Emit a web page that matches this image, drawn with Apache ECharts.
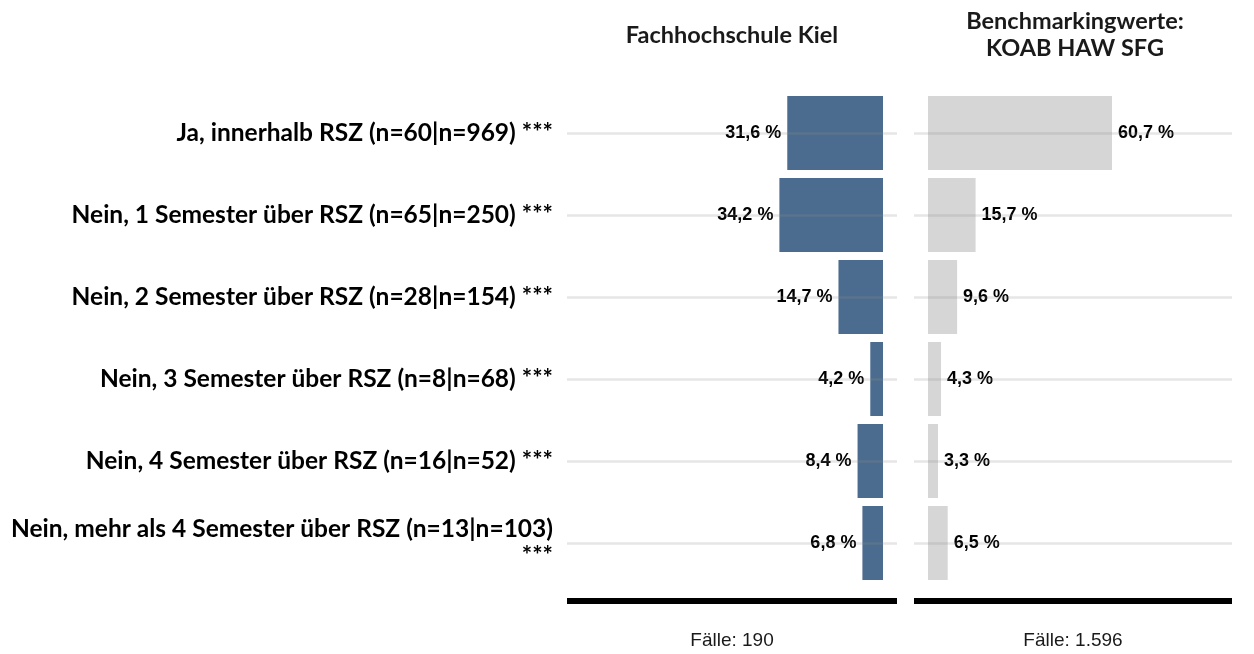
<!DOCTYPE html>
<html>
<head>
<meta charset="utf-8">
<script src="https://cdn.jsdelivr.net/npm/echarts@6/dist/echarts.min.js"></script>
<style>html,body{margin:0;padding:0;background:#fff}#c{width:1254px;height:654px}</style>
</head>
<body>
<div id="c"></div>
<script>
const categories = [
  'Ja, innerhalb RSZ (n=60|n=969) ***',
  'Nein, 1 Semester über RSZ (n=65|n=250) ***',
  'Nein, 2 Semester über RSZ (n=28|n=154) ***',
  'Nein, 3 Semester über RSZ (n=8|n=68) ***',
  'Nein, 4 Semester über RSZ (n=16|n=52) ***',
  'Nein, mehr als 4 Semester über RSZ (n=13|n=103) ***'
];
const fhKielValues = [31.6, 34.2, 14.7, 4.2, 8.4, 6.8];
const benchmarkValues = [60.7, 15.7, 9.6, 4.3, 3.3, 6.5];
const panelTitles = ['Fachhochschule Kiel', 'Benchmarkingwerte:\nKOAB HAW SFG'];
const caseCounts = ['Fälle: 190', 'Fälle: 1.596'];

const chart = echarts.init(document.getElementById('c'), null, {renderer: 'canvas'});
const labelFont = 'Lato';
const fmt = p => p.value.toFixed(1).replace('.', ',') + ' %';
const gridLines = categories.map(c => ({yAxis: c}));
const markLineCfg = {
  silent: true, symbol: 'none', label: {show: false},
  lineStyle: {color: 'rgba(140,140,140,0.22)', width: 2.5, type: 'solid'},
  emphasis: {disabled: true},
  data: gridLines
};
const xAxisCommon = {
  type: 'value', position: 'bottom', offset: 17,
  axisLine: {show: true, onZero: false, lineStyle: {color: '#000', width: 6, cap: 'butt'}},
  axisTick: {show: false}, axisLabel: {show: false}, splitLine: {show: false}
};
chart.setOption({
  animation: false,
  grid: [
    {left: 567, width: 330, top: 92, height: 492},
    {left: 914, width: 318, top: 92, height: 492}
  ],
  xAxis: [
    Object.assign({gridIndex: 0, inverse: true, min: -4.62, max: 104.3}, xAxisCommon),
    Object.assign({gridIndex: 1, min: -4.62, max: 100.3}, xAxisCommon)
  ],
  yAxis: [
    {type: 'category', gridIndex: 0, data: categories, inverse: true,
     axisLine: {show: false}, axisTick: {show: false}, splitLine: {show: false},
     axisLabel: {margin: 14, color: '#000', fontFamily: labelFont, fontWeight: 'bold', fontSize: 24.5,
       lineHeight: 27, align: 'right',
       formatter: v => v.length > 45 ? v.replace(' ***', '\n***') : v}},
    {type: 'category', gridIndex: 1, data: categories, inverse: true,
     axisLine: {show: false}, axisTick: {show: false}, splitLine: {show: false}, axisLabel: {show: false}}
  ],
  series: [
    {type: 'bar', xAxisIndex: 0, yAxisIndex: 0, data: fhKielValues, barWidth: 74,
     itemStyle: {color: '#4c6c8f'},
     label: {show: true, position: 'left', distance: 6, formatter: fmt, color: '#000',
       fontFamily: 'Liberation Sans', fontWeight: 'bold', fontSize: 18},
     markLine: markLineCfg},
    {type: 'bar', xAxisIndex: 1, yAxisIndex: 1, data: benchmarkValues, barWidth: 74,
     itemStyle: {color: '#d6d6d6'},
     label: {show: true, position: 'right', distance: 6, formatter: fmt, color: '#000',
       fontFamily: 'Liberation Sans', fontWeight: 'bold', fontSize: 18},
     markLine: markLineCfg}
  ],
  graphic: [
    {type: 'text', x: 732, y: 35, style: {text: panelTitles[0], textAlign: 'center', textVerticalAlign: 'middle',
      fontFamily: labelFont, fontWeight: 'bold', fontSize: 23.5, fill: '#1a1a1a'}},
    {type: 'text', x: 1075, y: 35, style: {text: panelTitles[1], textAlign: 'center', textVerticalAlign: 'middle',
      fontFamily: labelFont, fontWeight: 'bold', fontSize: 23.5, lineHeight: 27, fill: '#1a1a1a'}},
    {type: 'text', x: 732, y: 641, style: {text: caseCounts[0], textAlign: 'center', textVerticalAlign: 'middle',
      fontFamily: 'Liberation Sans', fontSize: 19, fill: '#1a1a1a'}},
    {type: 'text', x: 1073, y: 641, style: {text: caseCounts[1], textAlign: 'center', textVerticalAlign: 'middle',
      fontFamily: 'Liberation Sans', fontSize: 19, fill: '#1a1a1a'}}
  ]
});
</script>
</body>
</html>
